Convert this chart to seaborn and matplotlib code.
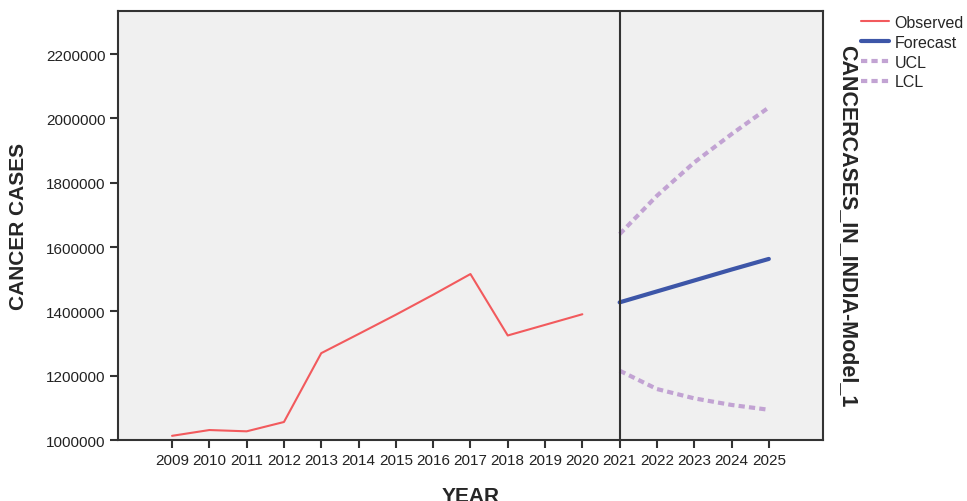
import matplotlib
matplotlib.use("Agg")
import matplotlib.pyplot as plt
import seaborn as sns
import pandas as pd

# Observed and forecast values
obs_years = [2009, 2010, 2011, 2012, 2013, 2014, 2015, 2016, 2017, 2018, 2019, 2020]
observed = [1013000, 1031000, 1027000, 1056000, 1270000, 1329500, 1389500,
            1451700, 1516000, 1325000, 1358000, 1391000]

fc_years = [2021, 2022, 2023, 2024, 2025]
forecast = [1428000, 1462000, 1496000, 1530000, 1563000]
ucl = [1640000, 1759500, 1863000, 1951000, 2034000]
lcl = [1215500, 1158500, 1129500, 1109000, 1094000]

year_ticks = list(range(2009, 2026))
y_ticks = [1000000, 1200000, 1400000, 1600000, 1800000, 2000000, 2200000]

sns.set_style("white")
plt.rcParams['font.family'] = ['Liberation Sans', 'DejaVu Sans']

fig = plt.figure(figsize=(9.67, 5.02), dpi=100)
ax = fig.add_axes([0.122, 0.1215, 0.729, 0.8545])
ax.set_facecolor("#F0F0F0")

obs_df = pd.DataFrame({"YEAR": obs_years, "CASES": observed})
fc_df = pd.DataFrame({"YEAR": fc_years, "Forecast": forecast, "UCL": ucl, "LCL": lcl})

sns.lineplot(data=obs_df, x="YEAR", y="CASES", ax=ax, color="#F25A5D", lw=1.5, label="Observed")
sns.lineplot(data=fc_df, x="YEAR", y="Forecast", ax=ax, color="#3D56A8", lw=3, label="Forecast")
sns.lineplot(data=fc_df, x="YEAR", y="UCL", ax=ax, color="#C2A3D3", lw=3,
             dashes=False, linestyle=(0, (1.5, 1.0)), label="UCL")
sns.lineplot(data=fc_df, x="YEAR", y="LCL", ax=ax, color="#C2A3D3", lw=3,
             dashes=False, linestyle=(0, (1.5, 1.0)), label="LCL")

ax.axvline(2021, color="#333333", lw=1.5)

ax.set_xlim(2007.55, 2026.45)
ax.set_ylim(1000000, 2333700)
ax.set_xticks(year_ticks)
ax.set_yticks(y_ticks)
ax.set_xticklabels([str(y) for y in year_ticks])
ax.set_yticklabels([str(v) for v in y_ticks])
ax.tick_params(axis="both", direction="out", length=6, width=1.5, color="#333333",
               labelsize=11, labelcolor="#222222", bottom=True, left=True, pad=3)

for s in ax.spines.values():
    s.set_color("#333333")
    s.set_linewidth(1.5)

ax.set_xlabel("YEAR", fontsize=15, fontweight="bold", labelpad=14)
ax.set_ylabel("CANCER CASES", fontsize=15, fontweight="bold", labelpad=13)

fig.text(0.877, 0.55, "CANCERCASES_IN_INDIA-Model_1", rotation=-90, fontsize=15.5,
         fontweight="bold", ha="center", va="center")

ax.legend(loc="upper left", bbox_to_anchor=(0.882, 0.984), bbox_transform=fig.transFigure,
          frameon=False, fontsize=11.5, handlelength=1.75, handletextpad=0.35,
          labelspacing=0.3, borderaxespad=0.2, borderpad=0.3)

fig.savefig("out.png", dpi=100)
